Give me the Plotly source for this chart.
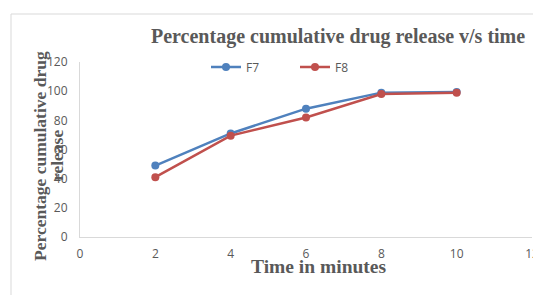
import plotly.graph_objects as go

time_min = [2, 4, 6, 8, 10]
f7 = [49, 71, 88, 99, 99.5]
f8 = [41, 69.5, 82, 98, 99]

# page has an 8px body margin in the browser; compensate
OFF = 8
W, H = 541 - OFF, 295 - OFF
L, T = 80 - OFF, 62 - OFF
PR, PB = 532 - OFF, 237 - OFF
R, B = W - PR, H - PB
PW, PH = PR - L, PB - T


def px(x):
    return (x - OFF - L) / PW


def py(y):
    return (PB - (y - OFF)) / PH


fig = go.Figure()
fig.add_trace(go.Scatter(x=time_min, y=f7, name="F7", mode="lines+markers",
                         line=dict(color="#4F81BD", width=2.5),
                         marker=dict(size=8, color="#4F81BD")))
fig.add_trace(go.Scatter(x=time_min, y=f8, name="F8", mode="lines+markers",
                         line=dict(color="#C0504D", width=2.5),
                         marker=dict(size=8, color="#C0504D")))

tickfont = dict(family="Open Sans, Liberation Sans, sans-serif", size=12, color="#595959")
serif = "Liberation Serif, Times New Roman, serif"
fig.update_layout(
    width=W, height=H,
    margin=dict(l=L, r=R, t=T, b=B, autoexpand=False),
    plot_bgcolor="white", paper_bgcolor="white",
    showlegend=True,
    legend=dict(orientation="h", x=px(206), y=py(67), xanchor="left", yanchor="middle",
                font=tickfont, bgcolor="rgba(0,0,0,0)", entrywidth=44, entrywidthmode="pixels",
                tracegroupgap=0),
    xaxis=dict(range=[0, 12], tickvals=[0, 2, 4, 6, 8, 10, 12], showgrid=False, zeroline=False,
               showline=True, linecolor="#D9D9D9", linewidth=1, tickfont=tickfont,
               ticks="", ticklabelstandoff=6, ticklabeloverflow="allow",
               automargin=False, fixedrange=True),
    yaxis=dict(range=[0, 120], tickvals=[0, 20, 40, 60, 80, 100, 120], showgrid=False, zeroline=False,
               showline=True, linecolor="#D9D9D9", linewidth=1, tickfont=tickfont,
               ticks="", ticklabelstandoff=9, automargin=False, fixedrange=True),
    shapes=[dict(type="rect", xref="paper", yref="paper",
                 x0=px(11), x1=px(W + 40),
                 y0=py(H + 40), y1=py(14),
                 line=dict(color="#D9D9D9", width=1), fillcolor="rgba(0,0,0,0)", layer="below")],
    annotations=[
        dict(text="<b>Percentage cumulative drug release v/s time</b>", xref="paper", yref="paper",
             x=px(338), y=py(36), xanchor="center", yanchor="middle",
             showarrow=False, font=dict(family=serif, size=20, color="#595959")),
        dict(text="<b>Time in minutes</b>", xref="paper", yref="paper",
             x=px(318), y=py(266), xanchor="center", yanchor="middle",
             showarrow=False, font=dict(family=serif, size=19.5, color="#595959")),
        dict(text="<b>Percentage cumulative drug</b>", xref="paper", yref="paper",
             x=px(40), y=py(156), xanchor="center", yanchor="middle",
             textangle=-90, showarrow=False,
             font=dict(family=serif, size=17.5, color="#595959")),
        dict(text="<b>release</b>", xref="paper", yref="paper",
             x=px(57), y=py(156), xanchor="center", yanchor="middle",
             textangle=-90, showarrow=False,
             font=dict(family=serif, size=17.5, color="#595959")),
    ],
)

fig.write_html("out.html", post_script="document.documentElement.style.overflow='hidden';"
                                       "document.body.style.overflow='hidden';")
